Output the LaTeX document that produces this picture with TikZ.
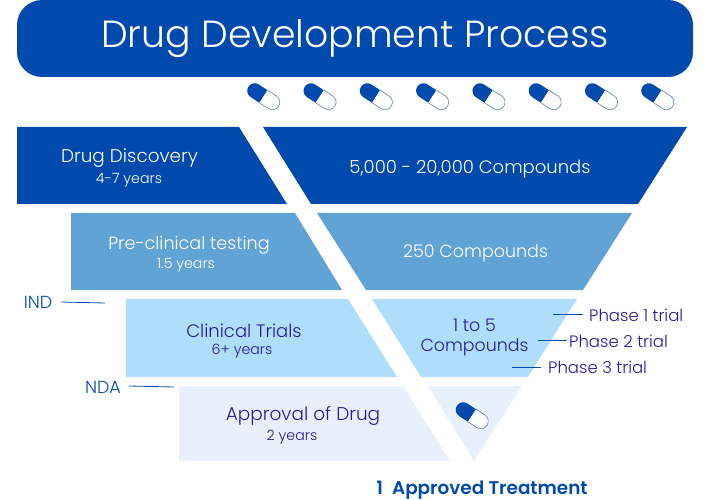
\documentclass[tikz,border=0pt]{standalone}
\usepackage{fontspec}
\setmainfont{Poppins}[UprightFont=* Light, BoldFont=* SemiBold]
\definecolor{darkband}{HTML}{004AAD}
\definecolor{midband}{HTML}{62A3D6}
\definecolor{lightband}{HTML}{AEDEF9}
\definecolor{paleband}{HTML}{E8F1FB}
\definecolor{inktext}{HTML}{2A1A9C}
\definecolor{pilledge}{HTML}{5F7FB5}
\newcommand{\px}[1]{\fontsize{#1}{20}\selectfont}
\tikzset{
  capsule/.pic={
    \begin{scope}[rotate=-33, y=1pt]
    \fill[darkband] (0,-7.5) -- (-10.5,-7.5) arc[start angle=270, end angle=90, radius=7.5] -- (0,7.5) -- cycle;
    \draw[pilledge, fill=white, line width=0.6pt] (0,-7.5) -- (10.5,-7.5) arc[start angle=-90, end angle=90, radius=7.5] -- (0,7.5);
    \end{scope}
  },
  bandlabel/.style={inktext, font=\px{18}, inner sep=0pt, align=center},
  yearlabel/.style={inktext, font=\px{14.2}, inner sep=0pt},
  phaselabel/.style={inktext, font=\px{16.5}, inner sep=0pt, anchor=west},
  gatelabel/.style={darkband, font=\px{17.5}, inner sep=0pt},
  tick/.style={darkband, line width=0.8pt}
}
\begin{document}
\begin{tikzpicture}[x=1pt, y=-1pt]
    \useasboundingbox (0,0) rectangle (710,500);

    % --- Title bar ---
    \fill[darkband, rounded corners=25pt] (17,0) rectangle (693,77);
    \node (title) [white, font=\px{37.8}, inner sep=0pt] at (355,39) {Drug Development Process};

    % --- Row of capsules under the title ---
    \foreach \i in {0,...,7}
        \pic at ({263.5+56.3*\i},96.5) {capsule};

    % --- Funnel, left and right parts of each band ---
    \fill[darkband] (17,127) -- (239,127) -- (287,204) -- (17,204) -- cycle;
    \fill[darkband] (263,127) -- (687,127) -- (638,204) -- (311,204) -- cycle;
    \fill[midband] (71,213) -- (295,213) -- (342,290) -- (71,290) -- cycle;
    \fill[midband] (317,213) -- (632,213) -- (583,290) -- (366,290) -- cycle;
    \fill[lightband] (126,299) -- (348,299) -- (397,377) -- (126,377) -- cycle;
    \fill[lightband] (372,299) -- (577,299) -- (528,377) -- (421,377) -- cycle;
    \fill[paleband] (179,386) -- (403,386) -- (450,461) -- (179,461) -- cycle;
    \fill[paleband] (428,386) -- (522,386) -- (474,461) -- cycle;

    % --- Stage names ---
    \node (discovery) [bandlabel, white, font=\px{18.4}] at (129.5,158) {Drug Discovery};
    \node (discoveryyears) [yearlabel, white] at (129,180) {4-7 years};
    \node (preclinical) [bandlabel, white, font=\px{17.6}] at (189,245) {Pre-clinical testing};
    \node (preclinicalyears) [yearlabel, white] at (186,265) {1.5 years};
    \node (clinical) [bandlabel] at (244,331) {Clinical Trials};
    \node (clinicalyears) [yearlabel] at (242,351) {6+ years};
    \node (approval) [bandlabel, font=\px{18.5}] at (303,416) {Approval of Drug};
    \node (approvalyears) [yearlabel] at (292,437) {2 years};

    % --- Compound counts ---
    \node (count1) [bandlabel, white] at (470,169) {5,000 - 20,000 Compounds};
    \node (count2) [bandlabel, white, font=\px{17.5}] at (475.5,253) {250 Compounds};
    \node (count3) [bandlabel, font=\px{17.4}] at (474.5,337) {1 to 5\\Compounds};
    \pic at (472,415.5) {capsule};
    \node (treatment) [darkband, font=\px{18.4}\bfseries, inner sep=0pt] at (482,490) {1\hspace{9pt}Approved Treatment};

    % --- Regulatory filings on the left ---
    \node (ind) [gatelabel] at (38,302.5) {IND};
    \coordinate (indA) at (61,302);
    \coordinate (indB) at (105,303);
    \draw[tick] (indA) -- (indB);
    \node (nda) [gatelabel] at (103,387.5) {NDA};
    \coordinate (ndaA) at (129,386);
    \coordinate (ndaB) at (174,387);
    \draw[tick] (ndaA) -- (ndaB);

    % --- Trial phases on the right ---
    \node (phase1) [phaselabel] at (589,315) {Phase 1 trial};
    \node (phase2) [phaselabel] at (569,341) {Phase 2 trial};
    \node (phase3) [phaselabel] at (548,367) {Phase 3 trial};
    \coordinate (phase1A) at (553,314);
    \coordinate (phase1B) at (583,314);
    \coordinate (phase2A) at (538,340);
    \coordinate (phase2B) at (567,340);
    \coordinate (phase3A) at (512,367);
    \coordinate (phase3B) at (541,367);
    \draw[tick] (phase1A) -- (phase1B);
    \draw[tick] (phase2A) -- (phase2B);
    \draw[tick] (phase3A) -- (phase3B);
\end{tikzpicture}
\end{document}
